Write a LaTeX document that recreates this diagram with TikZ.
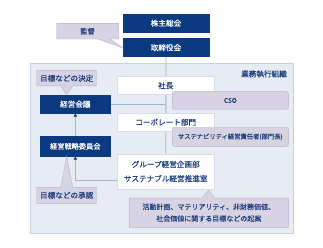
\documentclass[tikz,border=0pt]{standalone}
\usepackage{fontspec}
\setmainfont{Noto Sans CJK JP}[FakeBold=0.25]
\usetikzlibrary{positioning,shapes.callouts,arrows.meta,backgrounds,calc}
\definecolor{navy}{HTML}{0B3A80}
\definecolor{ink}{HTML}{1F3F7E}
\definecolor{memo}{HTML}{D8D3E3}
\definecolor{memoline}{HTML}{BAB2CD}
\definecolor{zonefill}{HTML}{E7EBF3}
\definecolor{zoneline}{HTML}{C6D0E2}
\definecolor{wirec}{HTML}{A3B5D2}

\begin{document}
\begin{tikzpicture}[x=1pt, y=-1pt, font=\fontsize{7.6}{9}\selectfont, inner sep=0pt,
  body/.style={fill=navy, draw=navy, text=white, minimum width=86.6pt, minimum height=18pt},
  unit/.style={fill=white, draw=zoneline!70, text=ink, minimum width=96.7pt, minimum height=17.6pt},
  role/.style={fill=memo, draw=memoline, rounded corners=2pt, text=ink, minimum width=116pt, minimum height=17.6pt},
  note/.style={rectangle callout, fill=memo, draw=memoline, text=ink, callout pointer width=12pt},
  wire/.style={draw=wirec, line width=0.9pt},
  tip/.style={-{Triangle[width=3.5pt,length=3pt,color=navy]}}]
\useasboundingbox (0,0) rectangle (323,248);
\begin{pgfonlayer}{background}
\node[fill=zonefill, draw=zoneline, line width=0.8pt, minimum width=262.6pt, minimum height=170pt] (org) at (162,148.3) {};
\end{pgfonlayer}
\node[anchor=east, text=ink] (orglabel) at (287,74) {業務執行組織};
% governance
\node[body] (soukai) at (166,23.2) {株主総会};
\node[body] (board) at (166,47.7) {取締役会};
\node[note, minimum width=61.6pt, minimum height=15.7pt, font=\fontsize{7.3}{9}\selectfont,
  callout absolute pointer={(board.west)}] (kantoku) at (87.5,31.2) {監督};
% execution
\node[unit] (ceo) at (165.7,85.5) {社長};
\node[role, font=\fontsize{6.5}{8}\selectfont] (cso) at (230.3,100.5) {CSO};
\node[body, minimum width=69.3pt, minimum height=18.3pt] (kaigi) at (75.3,104.2) {経営会議};
\node[unit] (corp) at (165.7,122.2) {コーポレート部門};
\node[role, minimum height=19pt, font=\fontsize{6.3}{8}\selectfont] (susmgr) at (230.3,136.8) {サステナビリティ経営責任者(部門長)};
\node[body, minimum width=69.3pt, minimum height=20pt, font=\fontsize{7.2}{9}\selectfont] (senryaku) at (75.3,146.3) {経営戦略委員会};
\node[unit, minimum height=35pt, align=center, font=\fontsize{7.6}{14.3}\selectfont] (group) at (165.7,171.5) {グループ経営企画部\\サステナブル経営推進室};
\node[note, minimum width=60pt, minimum height=15.3pt,
  callout absolute pointer={($(kaigi.north)+(-8.6,0)$)}] (kettei) at (66.7,78.3) {目標などの決定};
\node[note, minimum width=60pt, minimum height=16pt,
  callout absolute pointer={($(senryaku.south)+(-8.6,0)$)}] (shounin) at (66.7,195.3) {目標などの承認};
\node[note, minimum width=159pt, minimum height=29.3pt, align=center, font=\fontsize{7}{11.7}\selectfont,
  callout absolute pointer={($(group.south)+(42.6,1)$)}] (kian) at (208.8,212.7) {活動計画、マテリアリティ、非財務価値、\\社会価値に関する目標などの起案};
\begin{pgfonlayer}{background}
\draw[wire] (board.south) -- (group.north);
\draw[wire] (kaigi.east) -- (kaigi.east -| group.north);
\end{pgfonlayer}
\draw[wire, tip] (senryaku.north) -- (kaigi.south);
\draw[wire, tip] ($(group.west)+(0,8.5)$) -| (senryaku.south);
\end{tikzpicture}
\end{document}
